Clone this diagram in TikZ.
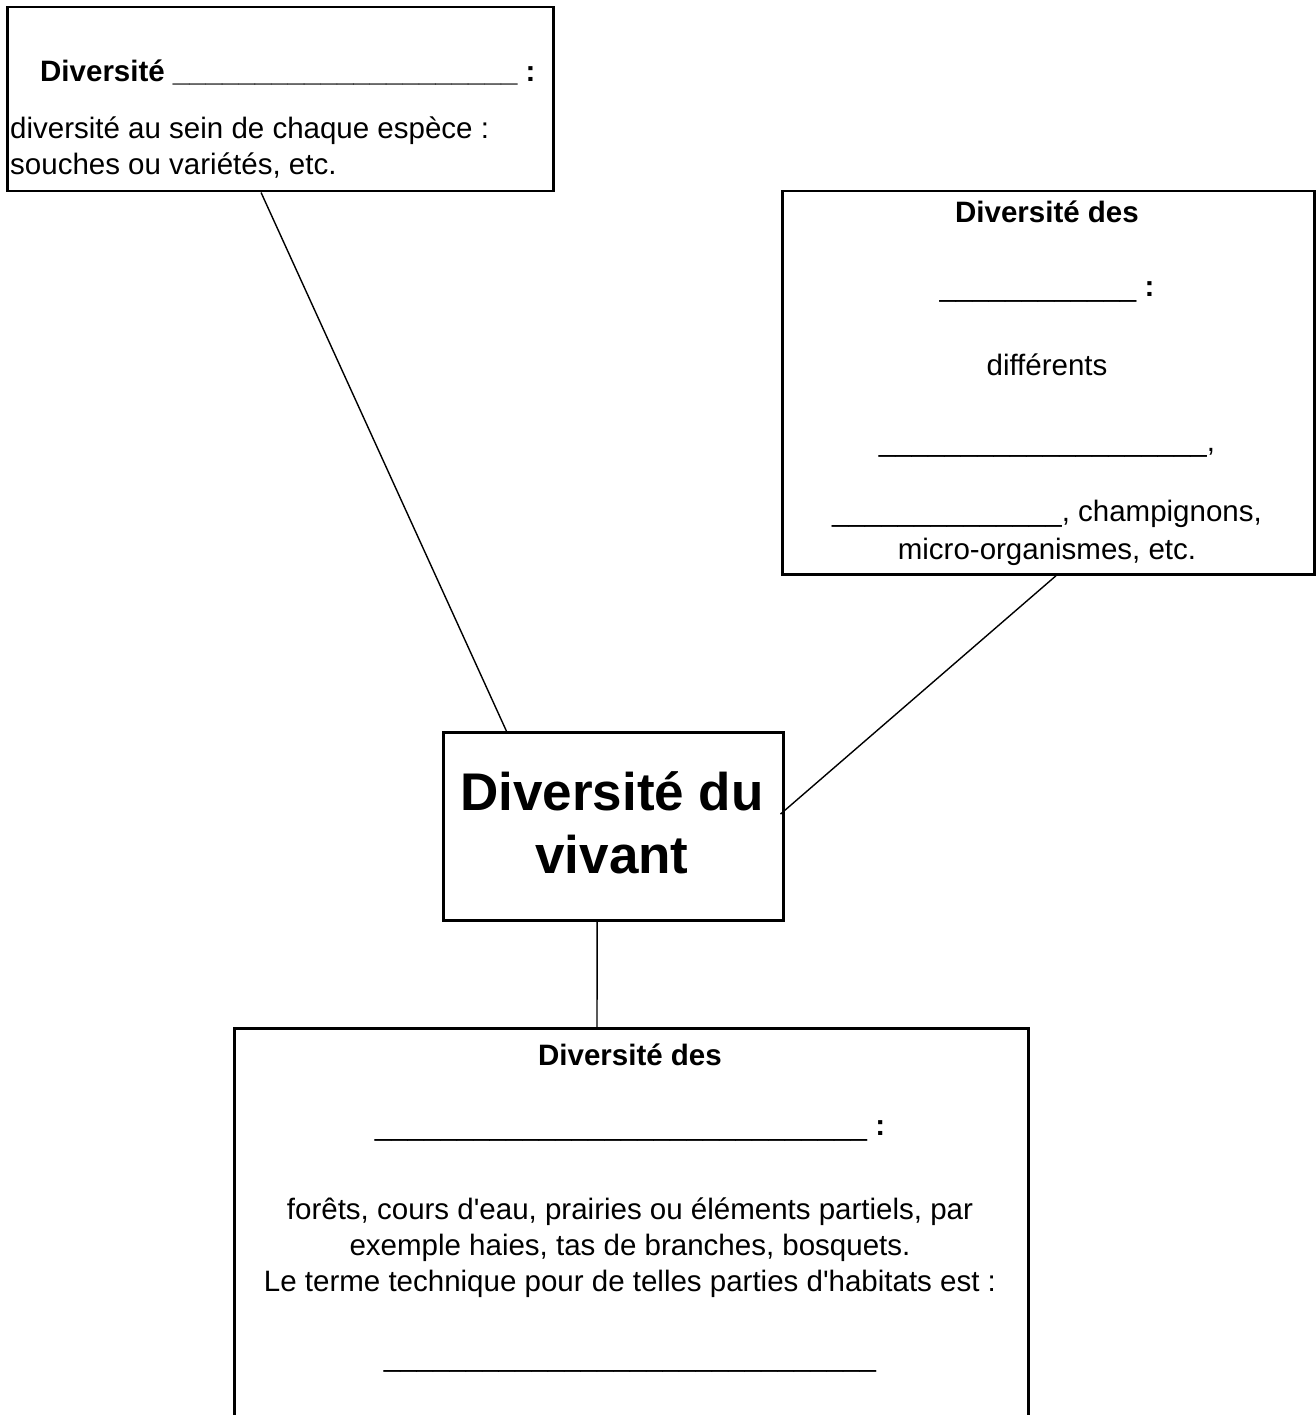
\documentclass[tikz,border=0pt]{standalone}
\usepackage{fontspec}
\setmainfont{Liberation Sans}
\usetikzlibrary{calc}
\ExplSyntaxOn
\newcommand\us[1]{\prg_replicate:nn{#1}{\textunderscore}}
\ExplSyntaxOff
\newcommand\apos{\textquotesingle}
\begin{document}
\begin{tikzpicture}[x=1pt,y=-1pt,
  box/.style={draw, line width=2.5pt, inner sep=0pt, anchor=north west},
  conn/.style={draw, line width=1.4pt},
  txt/.style={anchor=base, inner sep=0pt, font=\fontsize{29.5}{33}\selectfont},
  big/.style={anchor=base, inner sep=0pt, font=\fontsize{53}{62}\selectfont\bfseries}]
\useasboundingbox (0,0) rectangle (1316,1415);
% boxes
\node[box, minimum width=546pt, minimum height=184pt] (b1) at (6,6) {};
\node[box, minimum width=532pt, minimum height=383pt] (b2) at (781,190) {};
\node[box, minimum width=340pt, minimum height=188pt] (b3) at (442,731) {};
\node[box, minimum width=794pt, minimum height=420pt] (b4) at (233,1027) {};
% box 1 text
\node[txt, anchor=base west] (t1a) at (40,82) {\bfseries Diversité \us{21} :};
\node[txt, anchor=base west] (t1b) at (10,139) {diversité au sein de chaque espèce :};
\node[txt, anchor=base west] (t1c) at (10,175) {souches ou variétés, etc.};
% box 2 text
\node[txt] (t2a) at (1047,223) {\bfseries Diversité des};
\node[txt] (t2b) at (1047,296) {\us{12} \bfseries :};
\node[txt] (t2c) at (1047,375) {différents};
\node[txt] (t2d) at (1047,451) {\us{20},};
\node[txt] (t2e) at (1047,521) {\us{14}, champignons,};
\node[txt] (t2f) at (1047,559) {micro-organismes, etc.};
% box 3 text
\node[big] (t3a) at (612,810) {Diversité du};
\node[big] (t3b) at (612,873) {vivant};
% box 4 text
\node[txt] (t4a) at (630,1065) {\bfseries Diversité des};
\node[txt] (t4b) at (630,1135) {\us{30} \bfseries :};
\node[txt] (t4c) at (630,1219) {forêts, cours d\apos eau, prairies ou éléments partiels, par};
\node[txt] (t4d) at (630,1255) {exemple haies, tas de branches, bosquets.};
\node[txt] (t4e) at (630,1291) {Le terme technique pour de telles parties d\apos habitats est :};
\node[txt] (t4f) at (630,1366) {\us{30}};
% connectors
\draw[conn] ($(b1.south west)!0.465!(b1.south east)$) -- ($(b3.north west)!0.188!(b3.north east)$);
\draw[conn] ($(b2.south west)!0.515!(b2.south east)$) -- ($($(b3.north east)!0.436!(b3.south east)$)+(-4,0)$);
\draw[conn] ($(b3.south west)!0.453!(b3.south east)$) -- ($(b4.north west)!0.457!(b4.north east)$);
\end{tikzpicture}
\end{document}
